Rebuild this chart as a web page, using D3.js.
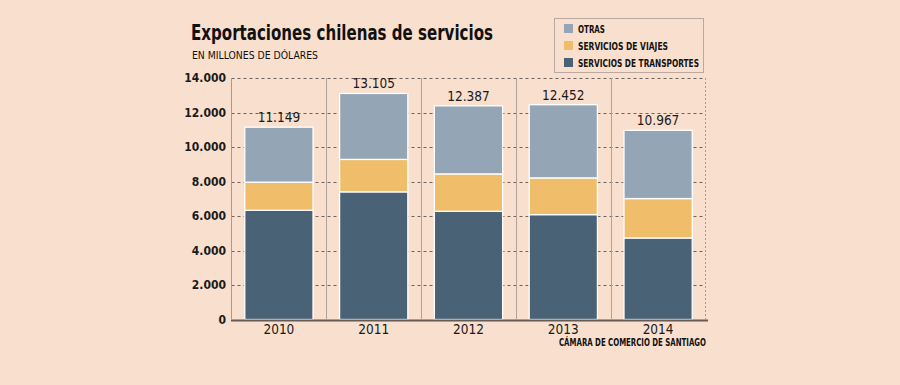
<!DOCTYPE html>
<html><head><meta charset="utf-8">
<script src="https://cdn.jsdelivr.net/npm/d3@7"></script>
<style>
html,body{margin:0;padding:0;background:#f9dfcd;}
svg{display:block;}
text{font-family:"DejaVu Sans Condensed","DejaVu Sans",sans-serif;}
.narrow{font-family:"Liberation Sans Narrow","DejaVu Sans Condensed",sans-serif;}
</style></head>
<body>
<svg id="chart" width="900" height="385"></svg>
<script>
const years = ["2010","2011","2012","2013","2014"];
const transportes = [6330, 7400, 6270, 6080, 4725];
const viajes = [1630, 1880, 2170, 2130, 2285];
const totals = [11149, 13105, 12387, 12452, 10967];
const otras = totals.map((t,i)=>t - transportes[i] - viajes[i]);
const totalLabels = ["11.149","13.105","12.387","12.452","10.967"];
const yTicks = [0,2000,4000,6000,8000,10000,12000,14000];
const seriesNames = ["OTRAS","SERVICIOS DE VIAJES","SERVICIOS DE TRANSPORTES"];
const colors = {transportes:"#4a6275", viajes:"#f0bd6b", otras:"#94a6b5"};

const svg = d3.select("#chart");
const x = d3.scaleBand().domain(years).range([231.5,705.5]).paddingInner(0.28).paddingOuter(0.14);
const y = d3.scaleLinear().domain([0,14000]).range([319.5,78]);

const fmt = v => d3.format(",")(v).replace(/,/g,".");

// grid lines
svg.append("g").selectAll("line").data(yTicks.filter(d=>d>0)).join("line")
  .attr("x1",231.5).attr("x2",705.5)
  .attr("y1",d=>Math.round(y(d))+0.5).attr("y2",d=>Math.round(y(d))+0.5)
  .attr("stroke","#6d625c").attr("stroke-width",1).attr("stroke-dasharray","3,3");

// vertical separators
const step = x.step();
const seps = years.slice(1);
svg.append("g").selectAll("line").data(seps).join("line")
  .attr("x1",d=>Math.round(x(d)-(step-x.bandwidth())/2)+0.5)
  .attr("x2",d=>Math.round(x(d)-(step-x.bandwidth())/2)+0.5)
  .attr("y1",78).attr("y2",319)
  .attr("stroke","#b0a29a").attr("stroke-width",1);
svg.append("line").attr("x1",705.5).attr("x2",705.5).attr("y1",78).attr("y2",319)
  .attr("stroke","#a89a92").attr("stroke-dasharray","2,2");
// y axis line
svg.append("line").attr("x1",231.5).attr("x2",231.5).attr("y1",78).attr("y2",319)
  .attr("stroke","#a89a92").attr("stroke-width",1);

// y tick labels
svg.append("g").selectAll("text").data(yTicks).join("text")
  .attr("x",226).attr("y",d=>y(d)+4)
  .attr("text-anchor","end").attr("font-size",12).attr("font-weight","bold")
  .attr("fill","#1a1a1a").text(d=>fmt(d));

// stacked bars
const data = years.map((yr,i)=>({year:yr, transportes:transportes[i], viajes:viajes[i], otras:otras[i]}));
const stack = d3.stack().keys(["transportes","viajes","otras"])(data);
svg.append("g").selectAll("g").data(stack).join("g")
  .attr("fill",d=>colors[d.key])
  .selectAll("rect").data(d=>d).join("rect")
  .attr("x",d=>x(d.data.year)).attr("width",x.bandwidth())
  .attr("y",d=>y(d[1])).attr("height",d=>y(d[0])-y(d[1]))
  .attr("stroke","#ffffff").attr("stroke-width",1.3);

// bottom axis line
svg.append("line").attr("x1",231).attr("x2",708).attr("y1",320.5).attr("y2",320.5)
  .attr("stroke","#665a54").attr("stroke-width",2);

// totals
svg.append("g").selectAll("text").data(years).join("text")
  .attr("x",d=>x(d)+x.bandwidth()/2).attr("y",(d,i)=>y(totals[i])-5)
  .attr("text-anchor","middle").attr("font-size",13.5).attr("fill","#1a1a1a")
  .text((d,i)=>totalLabels[i]);

// x labels
svg.append("g").selectAll("text").data(years).join("text")
  .attr("x",d=>x(d)+x.bandwidth()/2).attr("y",334)
  .attr("text-anchor","middle").attr("font-size",13.5).attr("fill","#1a1a1a")
  .text(d=>d);

// title
svg.append("text").attr("x",191).attr("y",40).attr("font-size",21).attr("font-weight","bold")
  .attr("fill","#111").attr("textLength",302).attr("lengthAdjust","spacingAndGlyphs")
  .text("Exportaciones chilenas de servicios");
svg.append("text").attr("x",192).attr("y",59).attr("font-size",11)
  .attr("fill","#111").attr("textLength",126).attr("lengthAdjust","spacingAndGlyphs")
  .text("EN MILLONES DE DÓLARES");

// legend
svg.append("rect").attr("x",554.5).attr("y",18.5).attr("width",149).attr("height",54)
  .attr("fill","none").attr("stroke","#b8aaa2");
const legColors = [colors.otras, colors.viajes, colors.transportes];
const legW = [27, 90, 121];
const lg = svg.append("g").selectAll("g").data(seriesNames).join("g")
  .attr("transform",(d,i)=>`translate(564,${24+i*17})`);
lg.append("rect").attr("width",9).attr("height",9).attr("fill",(d,i)=>legColors[i]);
lg.append("text").attr("class","narrow").attr("x",14).attr("y",8.5).attr("font-size",11).attr("fill","#111")
  .attr("font-weight","bold")
  .attr("textLength",(d,i)=>legW[i]).attr("lengthAdjust","spacingAndGlyphs").text(d=>d);

// source
svg.append("text").attr("class","narrow").attr("x",706).attr("y",346).attr("text-anchor","end")
  .attr("font-size",10.5).attr("fill","#111").attr("font-weight","bold")
  .attr("textLength",147).attr("lengthAdjust","spacingAndGlyphs")
  .text("CÁMARA DE COMERCIO DE SANTIAGO");
</script>
</body></html>
